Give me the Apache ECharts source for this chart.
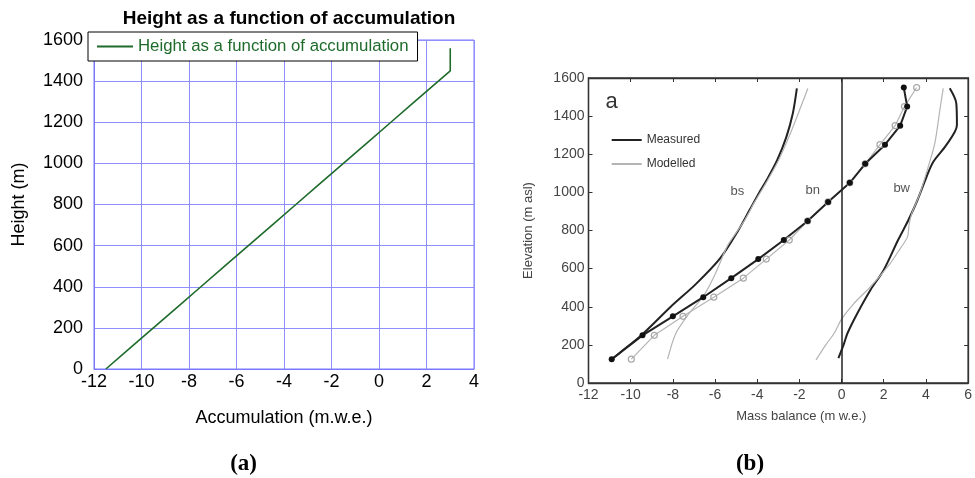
<!DOCTYPE html>
<html>
<head>
<meta charset="utf-8">
<script src="https://cdn.jsdelivr.net/npm/echarts@6/dist/echarts.min.js"></script>
<style>
  html, body { margin: 0; padding: 0; background: #fff; }
  #wrap { position: relative; width: 975px; height: 478px; overflow: hidden; }
  #left { position: absolute; left: 0; top: 0; width: 975px; height: 478px; }
  #right { position: absolute; left: 500px; top: 0; width: 475px; height: 478px; filter: blur(0.4px); }
</style>
</head>
<body>
<div id="wrap"><div id="left"></div><div id="right"></div></div>
<script>
// ---- (a) modelled height vs accumulation ----
const heightA = [0, 100, 200, 300, 400, 500, 600, 700, 800, 900, 1000, 1100, 1200, 1300, 1400, 1450, 1560];
const accumA  = [-11.5, -10.5, -9.5, -8.5, -7.5, -6.5, -5.5, -4.5, -3.5, -2.5, -1.5, -0.5, 0.5, 1.5, 2.5, 3.0, 3.0];
const xTicksA = [-12, -10, -8, -6, -4, -2, 0, 2, 4];
const yTicksA = [0, 200, 400, 600, 800, 1000, 1200, 1400, 1600];

// ---- (b) mass balance profiles ----
// net balance (bn), sampled at band mid-points
const bnElev      = [125, 250, 350, 450, 550, 650, 750, 850, 950, 1050, 1150, 1250, 1350, 1450, 1550];
const bnMeasured  = [-10.9, -9.44, -8.0, -6.56, -5.23, -3.95, -2.74, -1.61, -0.64, 0.39, 1.12, 2.06, 2.78, 3.11, 2.95];
const bnModelled  = [-9.97, -8.88, -7.52, -6.06, -4.66, -3.57, -2.48, -1.61, -0.64, 0.39, 1.12, 1.82, 2.54, 2.98, 3.56];
// summer balance (bs)
const bsMeasElev  = [125, 160, 255, 400, 520, 655, 800, 910, 1000, 1065, 1170, 1290, 1415, 1545];
const bsMeasured  = [-10.9, -10.5, -9.45, -8.1, -6.9, -5.75, -4.9, -4.35, -3.9, -3.55, -3.05, -2.62, -2.31, -2.12];
const bsModElev   = [125, 260, 365, 460, 575, 700, 740, 850, 950, 1050, 1170, 1290, 1415, 1545];
const bsModelled  = [-8.25, -7.86, -7.23, -6.53, -5.98, -5.5, -5.3, -4.62, -4.12, -3.58, -2.98, -2.5, -2.05, -1.6];
// winter balance (bw)
const bwMeasElev  = [130, 208, 261, 366, 488, 593, 750, 855, 960, 1082, 1161, 1249, 1353, 1467, 1546];
const bwMeasured  = [-0.15, 0.12, 0.28, 0.75, 1.37, 2.0, 2.68, 3.17, 3.6, 4.03, 4.35, 4.97, 5.47, 5.44, 5.13];
const bwModElev   = [121, 200, 261, 335, 418, 505, 628, 700, 768, 830, 890, 995, 1135, 1257, 1432, 1546];
const bwModelled  = [-1.21, -0.75, -0.35, 0.0, 0.59, 1.37, 2.31, 2.75, 3.13, 3.2, 3.33, 3.72, 4.11, 4.42, 4.66, 4.82];
const xTicksB = [-12, -10, -8, -6, -4, -2, 0, 2, 4, 6];
const yTicksB = [0, 200, 400, 600, 800, 1000, 1200, 1400, 1600];

const pairs = (xs, ys) => xs.map((x, i) => [x, ys[i]]);
const plain = v => String(v);

const SANS = '"Liberation Sans", Arial, Helvetica, sans-serif';
const SERIF = '"Liberation Serif", "DejaVu Serif", serif';
const GREEN = '#1f6b2b';
const FRAME = '#7878ff';
const GRID = '#8f8fff';

const NAME_A = 'Height as a function of accumulation';

const chartA = echarts.init(document.getElementById('left'), null, { renderer: 'canvas' });
chartA.setOption({
  animation: false,
  title: {
    text: NAME_A, left: 284, top: 4, textAlign: 'center',
    textStyle: { fontFamily: SANS, fontSize: 19, fontWeight: 'bold', color: '#000' }
  },
  legend: {
    data: [{ name: NAME_A, icon: 'rect' }], left: 88, top: 32, padding: [6, 9, 6, 9],
    borderColor: '#000', borderWidth: 1, backgroundColor: '#fff',
    itemWidth: 36, itemHeight: 2,
    textStyle: { fontFamily: SANS, fontSize: 16.8, color: GREEN }
  },
  grid: { left: 94, right: 501, top: 40, bottom: 109, show: true, borderColor: FRAME, borderWidth: 1 },
  xAxis: {
    type: 'value', min: xTicksA[0], max: xTicksA[xTicksA.length - 1], interval: 2,
    axisLine: { show: true, onZero: false, lineStyle: { color: FRAME, width: 1 } },
    axisTick: { show: false },
    splitLine: { show: true, lineStyle: { color: GRID, width: 1 } },
    axisLabel: { fontFamily: SANS, fontSize: 18, color: '#000', margin: 4, formatter: plain },
    name: 'Accumulation (m.w.e.)', nameLocation: 'middle', nameGap: 40,
    nameTextStyle: { fontFamily: SANS, fontSize: 18, color: '#000' }
  },
  yAxis: {
    type: 'value', min: yTicksA[0], max: yTicksA[yTicksA.length - 1], interval: 200,
    axisLine: { show: true, onZero: false, lineStyle: { color: FRAME, width: 1 } },
    axisTick: { show: false },
    splitLine: { show: true, lineStyle: { color: GRID, width: 1 } },
    axisLabel: { fontFamily: SANS, fontSize: 18, color: '#000', margin: 11, formatter: plain },
    name: 'Height (m)', nameLocation: 'middle', nameRotate: 90, nameGap: 66,
    nameTextStyle: { fontFamily: SANS, fontSize: 18, color: '#000' }
  },
  series: [{
    name: NAME_A, type: 'line', data: pairs(accumA, heightA), symbol: 'none',
    itemStyle: { color: GREEN }, lineStyle: { color: GREEN, width: 1.6 }
  }],
  graphic: [
    { type: 'text', x: 243.6, y: 464, style: { text: '(a)', fontFamily: SERIF, fontWeight: 'bold', fontSize: 23, fill: '#000', align: 'center', verticalAlign: 'middle' } },
    { type: 'text', x: 750, y: 464, style: { text: '(b)', fontFamily: SERIF, fontWeight: 'bold', fontSize: 23, fill: '#000', align: 'center', verticalAlign: 'middle' } }
  ]
});

// ---- panel (b) ----
const INK = '#222';
const LIGHT = '#b4b4b4';
const LBL = '#444';
const tickStyle = { show: true, inside: true, length: 4, lineStyle: { color: '#333', width: 1 } };
const lineAxis = { show: true, onZero: false, lineStyle: { color: '#333', width: 1.3 } };

const chartB = echarts.init(document.getElementById('right'), null, { renderer: 'canvas' });
chartB.setOption({
  animation: false,
  legend: {
    data: [
      { name: 'Measured', icon: 'rect', itemStyle: { color: INK } },
      { name: 'Modelled', icon: 'rect', itemStyle: { color: LIGHT } }
    ],
    orient: 'vertical', left: 111.7, top: 133, padding: 0,
    itemWidth: 30, itemHeight: 2, itemGap: 10,
    textStyle: { fontFamily: SANS, fontSize: 12, color: '#333', lineHeight: 14 }
  },
  grid: { left: 88.5, right: 3, top: 78, bottom: 95, show: true, borderColor: '#333', borderWidth: 1.3 },
  xAxis: [{
    type: 'value', min: xTicksB[0], max: xTicksB[xTicksB.length - 1], interval: 2,
    axisLine: lineAxis, axisTick: tickStyle, splitLine: { show: false },
    axisLabel: { fontFamily: SANS, fontSize: 14, color: LBL, margin: 5, formatter: plain },
    name: 'Mass balance (m w.e.)', nameLocation: 'middle', nameGap: 27,
    nameTextStyle: { fontFamily: SANS, fontSize: 13, color: LBL, padding: [0, 0, 0, 46] }
  }, {
    type: 'value', position: 'top', min: xTicksB[0], max: xTicksB[xTicksB.length - 1], interval: 2,
    axisLine: lineAxis, axisTick: tickStyle, splitLine: { show: false }, axisLabel: { show: false }
  }],
  yAxis: [{
    type: 'value', min: yTicksB[0], max: yTicksB[yTicksB.length - 1], interval: 200,
    axisLine: lineAxis, axisTick: tickStyle, splitLine: { show: false },
    axisLabel: { fontFamily: SANS, fontSize: 14, color: LBL, margin: 4, formatter: plain },
    name: 'Elevation (m asl)', nameLocation: 'middle', nameRotate: 90, nameGap: 54,
    nameTextStyle: { fontFamily: SANS, fontSize: 13, color: LBL }
  }, {
    type: 'value', position: 'right', min: yTicksB[0], max: yTicksB[yTicksB.length - 1], interval: 200,
    axisLine: lineAxis, axisTick: tickStyle, splitLine: { show: false }, axisLabel: { show: false }
  }],
  series: [
    { name: 'Measured', type: 'line', data: pairs(bsMeasured, bsMeasElev), smooth: 0.3, symbol: 'none',
      itemStyle: { color: INK }, lineStyle: { color: INK, width: 2 } },
    { name: 'Modelled', type: 'line', data: pairs(bsModelled, bsModElev), smooth: 0.3, symbol: 'none',
      itemStyle: { color: LIGHT }, lineStyle: { color: LIGHT, width: 1.2 } },
    { name: 'Measured', type: 'line', data: pairs(bwMeasured, bwMeasElev), smooth: 0.3, symbol: 'none',
      itemStyle: { color: INK }, lineStyle: { color: INK, width: 2 } },
    { name: 'Modelled', type: 'line', data: pairs(bwModelled, bwModElev), smooth: 0.3, symbol: 'none',
      itemStyle: { color: LIGHT }, lineStyle: { color: LIGHT, width: 1.2 } },
    { name: 'Modelled', type: 'line', data: pairs(bnModelled, bnElev), symbol: 'circle', symbolSize: 6,
      itemStyle: { color: 'rgba(255,255,255,0)', borderColor: '#a8a8a8', borderWidth: 1.2 },
      lineStyle: { color: LIGHT, width: 1.2 } },
    { name: 'Measured', type: 'line', data: pairs(bnMeasured, bnElev), symbol: 'circle', symbolSize: 6,
      itemStyle: { color: '#111' }, lineStyle: { color: INK, width: 2 },
      markLine: { silent: true, symbol: 'none', label: { show: false },
        lineStyle: { color: '#222', width: 1.5, type: 'solid' }, data: [{ xAxis: 0 }] } }
  ],
  graphic: [
    { type: 'text', x: 111.7, y: 101.7, style: { text: 'a', fontFamily: SANS, fontSize: 22, fill: '#333', align: 'center', verticalAlign: 'middle' } },
    { type: 'text', x: 237.3, y: 191.7, style: { text: 'bs', fontFamily: SANS, fontSize: 13, fill: '#555', align: 'center', verticalAlign: 'middle' } },
    { type: 'text', x: 312.7, y: 190, style: { text: 'bn', fontFamily: SANS, fontSize: 13, fill: '#555', align: 'center', verticalAlign: 'middle' } },
    { type: 'text', x: 401.7, y: 188.3, style: { text: 'bw', fontFamily: SANS, fontSize: 13, fill: '#555', align: 'center', verticalAlign: 'middle' } }
  ]
});
</script>
</body>
</html>
